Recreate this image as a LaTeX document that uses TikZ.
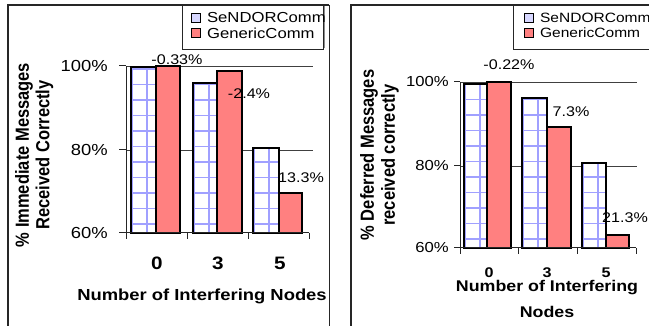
\documentclass[tikz,border=0pt]{standalone}
\usepackage{fontspec}
\setmainfont{Liberation Sans}
\usetikzlibrary{positioning}

\definecolor{salmon}{RGB}{255,128,128}
\definecolor{hatchblue}{RGB}{160,160,255}
\definecolor{markblue}{RGB}{215,215,255}

% chart text is a little wider than the font
\newcommand{\widetxt}[1]{\scalebox{1.15}[1]{#1}}
\newcommand{\talltxt}[1]{\scalebox{1}[1.15]{#1}}

% white bar with a blue grid on it: left, right, top, base
\newcommand{\gridbar}[4]{%
  \fill[white] (#1,#3) rectangle (#2,#4);
  \begin{scope}
    \clip (#1,#3) rectangle (#2,#4);
    \foreach \vv in {1,16}
      \draw[hatch] ({#1+\vv},#3) -- ({#1+\vv},#4);
    \foreach \hh in {0,...,11}
      \draw[hatch] (#1,{#4-9-15.5*\hh}) -- (#2,{#4-9-15.5*\hh});
  \end{scope}
  \draw[bar] (#1,#4) rectangle (#2,#3);}

\begin{document}
\begin{tikzpicture}[
  x=1pt,y=-1pt,
  panel/.style={draw=black!85,line width=1.3pt},
  gridln/.style={draw=black!75,line width=0.9pt},
  axisln/.style={draw=black!85,line width=1pt},
  hatch/.style={draw=hatchblue,line width=1.3pt},
  bar/.style={draw=black,line width=1.2pt},
  genbar/.style={bar,fill=salmon},
  legbox/.style={draw=black!85,line width=0.9pt},
  legmark/.style={draw=black,line width=0.8pt,minimum size=9pt,inner sep=0pt},
  legtext/.style={inner sep=0pt},
  ticklab/.style={inner sep=0pt,anchor=east},
  datalab/.style={inner sep=0pt,font=\fontsize{14}{16}\selectfont},
  catlab/.style={inner sep=0pt,font=\bfseries\fontsize{18}{20}\selectfont},
  rcatlab/.style={inner sep=0pt,font=\bfseries\fontsize{14}{16}\selectfont},
  xtitle/.style={inner sep=0pt,font=\bfseries\fontsize{16}{18}\selectfont},
  rxtitle/.style={inner sep=0pt,font=\bfseries\fontsize{15.5}{17}\selectfont},
  ytitle/.style={inner sep=0pt,rotate=90,font=\bfseries\fontsize{16.5}{18}\selectfont}]

  \useasboundingbox (0,0) rectangle (649,326);
  \clip (0,0) rectangle (649,326);

  % ---- left chart: immediate messages ----
  \draw[panel] (8,340) -- (8,5) -- (329,5);
  \draw[draw=black!85,line width=0.8pt] (329,5) -- (329,340);

  % grid lines behind the bars
  \draw[gridln] (126,66) -- (313,66);
  \draw[gridln] (126,150) -- (313,150);

  % bars, 60% at y=233, 20% = 83.5
  \gridbar{131}{156}{67}{233}
  \draw[genbar] (156,233) rectangle (180,66);
  \gridbar{193}{217}{83}{233}
  \draw[genbar] (217,233) rectangle (242,71);
  \gridbar{253}{279}{148}{233}
  \draw[genbar] (279,233) rectangle (302,193);

  % axes and ticks
  \draw[axisln] (126,66) -- (126,233) -- (309,233);
  \foreach \ty in {66,150,233}
    \draw[axisln] (119,\ty) -- (126,\ty);
  \foreach \tx in {126,187,248,309}
    \draw[axisln] (\tx,233) -- (\tx,239);

  \begin{scope}[every node/.append style={font=\fontsize{16}{18}\selectfont}]
    \node[ticklab] (la100) at (108,66) {\widetxt{100\%}};
    \node[ticklab] (la80) at (108,150) {\widetxt{80\%}};
    \node[ticklab] (la60) at (108,233) {\widetxt{60\%}};
  \end{scope}

  \node[datalab] (ladiff0) at (177,60) {\widetxt{-0.33\%}};
  \node[datalab] (ladiff3) at (249,94) {\widetxt{-2.4\%}};
  \node[datalab] (ladiff5) at (301,178) {\widetxt{13.3\%}};

  \node[catlab] (lacat0) at (157,263) {\widetxt{0}};
  \node[catlab] (lacat3) at (218,263) {\widetxt{3}};
  \node[catlab] (lacat5) at (280,263) {\widetxt{5}};

  \node[xtitle] (laxtitle) at (202,296) {\widetxt{Number of Interfering Nodes}};
  \node[ytitle] (laytop) at (24,155) {\talltxt{\% Immediate Messages}};
  \node[ytitle] (layrow) at (44.5,155) {\talltxt{Received Correctly}};

  % legend
  \draw[black!45,line width=2pt] (324,6) -- (324,48);
  \draw[legbox,fill=white] (182,5) rectangle (323,49);
  \node[legmark,fill=markblue] (lamksn) at (195.5,18) {};
  \node[legmark,fill=salmon] (lamkgc) at (195.5,33) {};
  \begin{scope}[every node/.append style={font=\fontsize{14.5}{16}\selectfont}]
    \node[legtext,right=6.5pt of lamksn] (lasn) {\widetxt{SeNDORComm}};
    \node[legtext,right=6.5pt of lamkgc] (lagc) {\widetxt{GenericComm}};
  \end{scope}

  % ---- right chart: deferred messages ----
  \draw[panel,line width=1.8pt] (351,340) -- (351,5) -- (660,5);

  \draw[gridln] (460,82) -- (637,82);
  \draw[gridln] (460,166) -- (637,166);

  % bars, 60% at y=248, 20% = 83
  \gridbar{464}{487}{84}{248}
  \draw[genbar] (487,248) rectangle (511,82);
  \gridbar{522}{547}{98}{248}
  \draw[genbar] (547,248) rectangle (571,127);
  \gridbar{582}{606}{163}{248}
  \draw[genbar] (606,248) rectangle (629,235);

  \draw[axisln] (460,82) -- (460,248) -- (636,248);
  \foreach \ty in {82,166,248}
    \draw[axisln] (454,\ty) -- (460,\ty);
  \foreach \tx in {460,518,577,636}
    \draw[axisln] (\tx,248) -- (\tx,254);

  \begin{scope}[every node/.append style={font=\fontsize{14.5}{16}\selectfont}]
    \node[ticklab] (ra100) at (449,82) {\widetxt{100\%}};
    \node[ticklab] (ra80) at (449,166) {\widetxt{80\%}};
    \node[ticklab] (ra60) at (449,248) {\widetxt{60\%}};
  \end{scope}

  \node[datalab] (rdiff0) at (509,65) {\widetxt{-0.22\%}};
  \node[datalab] (rdiff3) at (571,112) {\widetxt{7.3\%}};
  \node[datalab] (rdiff5) at (625,218) {\widetxt{21.3\%}};

  \node[rcatlab] (rcat0) at (489,273) {\widetxt{0}};
  \node[rcatlab] (rcat3) at (547,273) {\widetxt{3}};
  \node[rcatlab] (rcat5) at (606,273) {\widetxt{5}};

  \node[rxtitle] (rxtop) at (547,287.5) {\widetxt{Number of Interfering}};
  \node[rxtitle] (rxrow) at (547,312) {\widetxt{Nodes}};
  \node[ytitle] (rytop) at (369,155) {\talltxt{\% Deferred Messages}};
  \node[ytitle] (ryrow) at (390,155) {\talltxt{received correctly}};

  % legend
  \draw[legbox,fill=white] (513,5) rectangle (660,49);
  \node[legmark,fill=markblue] (rmksn) at (528.5,17.5) {};
  \node[legmark,fill=salmon] (rmkgc) at (528.5,32.5) {};
  \begin{scope}[every node/.append style={font=\fontsize{13.5}{15}\selectfont}]
    \node[legtext,right=6.5pt of rmksn] (rsn) {\widetxt{SeNDORComm}};
    \node[legtext,right=6.5pt of rmkgc] (rgc) {\widetxt{GenericComm}};
  \end{scope}
\end{tikzpicture}
\end{document}
